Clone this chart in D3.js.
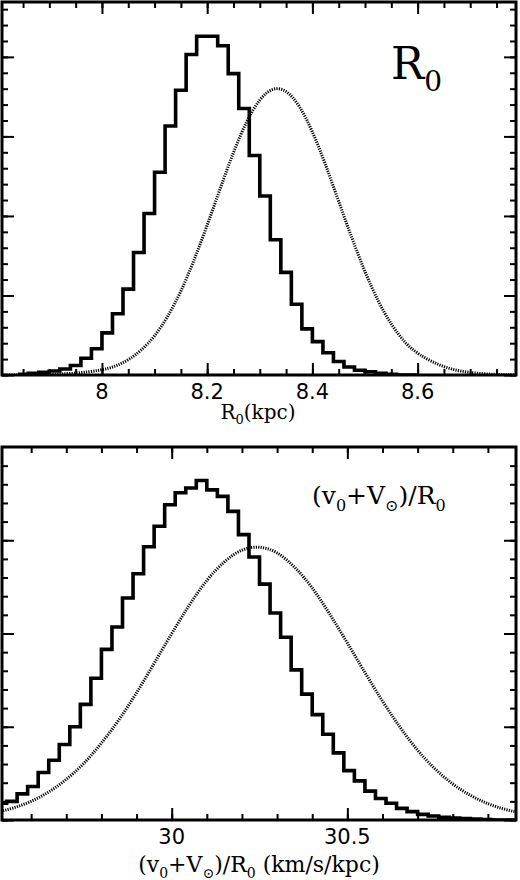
<!DOCTYPE html>
<html><head><meta charset="utf-8">
<script src="https://cdn.jsdelivr.net/npm/d3@7/dist/d3.min.js"></script>
<style>body{margin:0;background:#fff}</style></head>
<body><svg id="c" width="520" height="880"></svg>
<script>
// Top panel: R0 histogram (bin width 0.02, bin left edges)
const r0BinStart = 7.84, r0BinWidth = 0.02;
const r0Hist = [0.01,0.02,0.034,0.05,0.075,0.12,0.21,0.33,0.53,0.77,1.08,1.54,2.03,2.55,3.13,3.58,4.03,4.26,4.26,4.14,3.79,3.35,2.76,2.25,1.70,1.29,0.89,0.58,0.42,0.28,0.17,0.10,0.06,0.04,0.02,0.01,0,0];
const r0CurveX = [7.81,7.85,7.90,7.95,8.00,8.025,8.05,8.075,8.10,8.125,8.15,8.175,8.20,8.225,8.25,8.275,8.30,8.325,8.35,8.375,8.40,8.425,8.45,8.475,8.50,8.525,8.55,8.575,8.60,8.65,8.70,8.75,8.79];
const r0CurveY = [0,0.002,0.006,0.02,0.06,0.106,0.185,0.31,0.48,0.73,1.04,1.44,1.88,2.35,2.81,3.20,3.48,3.62,3.59,3.40,3.07,2.65,2.18,1.72,1.29,0.92,0.63,0.41,0.26,0.088,0.024,0.006,0.001];
const r0Ticks = [8, 8.2, 8.4, 8.6];

// Bottom panel: (v0+V⊙)/R0 histogram (bin width 0.03)
const omBinStart = 29.50, omBinWidth = 0.03;
const omHist = [0.18,0.20,0.28,0.36,0.51,0.64,0.81,1.00,1.24,1.52,1.83,2.07,2.38,2.64,2.93,3.15,3.38,3.51,3.56,3.64,3.54,3.47,3.31,3.06,2.82,2.53,2.22,1.96,1.61,1.35,1.13,0.92,0.72,0.53,0.42,0.31,0.23,0.18,0.125,0.09,0.06,0.043,0.03,0.02,0.015,0.01,0.005,0,0,0];
const omCurveX = [29.50,29.55,29.60,29.65,29.70,29.75,29.80,29.85,29.90,29.95,30.00,30.05,30.10,30.15,30.20,30.25,30.30,30.35,30.40,30.45,30.50,30.55,30.60,30.65,30.70,30.75,30.80,30.85,30.90,30.95,31.00];
const omCurveY = [0.08,0.127,0.195,0.295,0.43,0.60,0.82,1.07,1.36,1.68,2.00,2.31,2.58,2.78,2.91,2.94,2.88,2.72,2.50,2.21,1.90,1.58,1.27,0.99,0.74,0.54,0.38,0.26,0.17,0.11,0.07];
const omTicks = [30, 30.5];

const svg = d3.select("#c");
const L = 2, R = 516;

function panel(o){
  const x = d3.scaleLinear().domain(o.xd).range([L,R]);
  const y = d3.scaleLinear().domain(o.yd).range([o.bot,o.top]);
  const g = svg.append("g");
  const clipId = "clip"+o.id;
  g.append("clipPath").attr("id",clipId).append("rect")
    .attr("x",L).attr("y",o.top).attr("width",R-L).attr("height",o.bot-o.top);
  const pg = g.append("g").attr("clip-path",`url(#${clipId})`);
  pg.append("path").datum(o.cx.map((v,i)=>[v,o.cy[i]]))
    .attr("d",d3.line().x(d=>x(d[0])).y(d=>y(d[1])).curve(d3.curveBasis))
    .attr("fill","none").attr("stroke","#000").attr("stroke-width",3)
    .attr("stroke-dasharray","1.2 1.2");
  const pts = [];
  o.h.forEach((v,i)=>{const a=o.b0+i*o.bw; pts.push([a,v],[a+o.bw,v]);});
  pg.append("path").datum(pts)
    .attr("d",d3.line().x(d=>x(d[0])).y(d=>y(d[1])))
    .attr("fill","none").attr("stroke","#000").attr("stroke-width",3.6).attr("stroke-linejoin","miter");
  const minorX = d3.range(Math.ceil(o.xd[0]/o.xm)*o.xm, o.xd[1], o.xm);
  const ax = (sel,axis,tr)=>{sel.append("g").attr("transform",tr).call(axis)
      .call(s=>{s.select(".domain").remove(); s.selectAll("line").attr("stroke","#000").attr("stroke-width",2);});};
  ax(g, d3.axisBottom(x).tickValues(minorX).tickSize(-6).tickFormat(""), `translate(0,${o.bot})`);
  ax(g, d3.axisBottom(x).tickValues(o.xt).tickSize(-12).tickFormat(""), `translate(0,${o.bot})`);
  ax(g, d3.axisTop(x).tickValues(minorX).tickSize(-6).tickFormat(""), `translate(0,${o.top})`);
  ax(g, d3.axisTop(x).tickValues(o.xt).tickSize(-12).tickFormat(""), `translate(0,${o.top})`);
  const minorY = d3.range(0, o.yd[1], o.ym), majorY = d3.range(0, o.yd[1], 1);
  ax(g, d3.axisLeft(y).tickValues(minorY).tickSize(-6).tickFormat(""), `translate(${L},0)`);
  ax(g, d3.axisLeft(y).tickValues(majorY).tickSize(-12).tickFormat(""), `translate(${L},0)`);
  ax(g, d3.axisRight(y).tickValues(minorY).tickSize(-6).tickFormat(""), `translate(${R},0)`);
  ax(g, d3.axisRight(y).tickValues(majorY).tickSize(-12).tickFormat(""), `translate(${R},0)`);
  g.selectAll("text.tl").data(o.xt).enter().append("text")
    .attr("x",d=>x(d)).attr("y",o.bot+24).attr("text-anchor","middle")
    .attr("font-family","DejaVu Sans, sans-serif").attr("font-size",21).text(d=>d);
  g.append("rect").attr("x",L).attr("y",o.top).attr("width",R-L).attr("height",o.bot-o.top)
    .attr("fill","none").attr("stroke","#000").attr("stroke-width",3);
  return g;
}

const serif = "DejaVu Serif, serif";
panel({id:1,xd:[7.81,8.787],yd:[0,4.69],top:2,bot:375,h:r0Hist,b0:r0BinStart,bw:r0BinWidth,
  cx:r0CurveX,cy:r0CurveY,xt:r0Ticks,xm:0.05,ym:0.2});
panel({id:2,xd:[29.517,30.98],yd:[0,4.0],top:447,bot:820,h:omHist,b0:omBinStart,bw:omBinWidth,
  cx:omCurveX,cy:omCurveY,xt:omTicks,xm:0.1,ym:0.2});

const t1 = svg.append("text").attr("x",391).attr("y",79).attr("font-family",serif).attr("font-size",44).attr("font-weight",300);
t1.append("tspan").text("R");
t1.append("tspan").attr("font-size",28).attr("dy",12).text("0");

const t2 = svg.append("text").attr("x",258).attr("y",419).attr("text-anchor","middle").attr("font-family",serif).attr("font-size",20);
t2.append("tspan").text("R");
t2.append("tspan").attr("font-size",13).attr("dy",5).text("0");
t2.append("tspan").attr("dy",-5).text("(kpc)");

function omLabel(xp,yp,fs,anchor,suffix){
  const t = svg.append("text").attr("x",xp).attr("y",yp).attr("text-anchor",anchor).attr("font-family",serif).attr("font-size",fs);
  const s = Math.round(fs*0.65), d = Math.round(fs*0.28);
  t.append("tspan").text("(v");
  t.append("tspan").attr("font-size",s).attr("dy",d).text("0");
  t.append("tspan").attr("dy",-d).text("+V");
  t.append("tspan").attr("font-size",s).attr("dy",d).text("⊙");
  t.append("tspan").attr("dy",-d).text(")/R");
  t.append("tspan").attr("font-size",s).attr("dy",d).text("0");
  if(suffix) t.append("tspan").attr("dy",-d).text(suffix);
}
omLabel(312,504,25,"start","");
omLabel(259,872,22,"middle"," (km/s/kpc)");
</script></body></html>
